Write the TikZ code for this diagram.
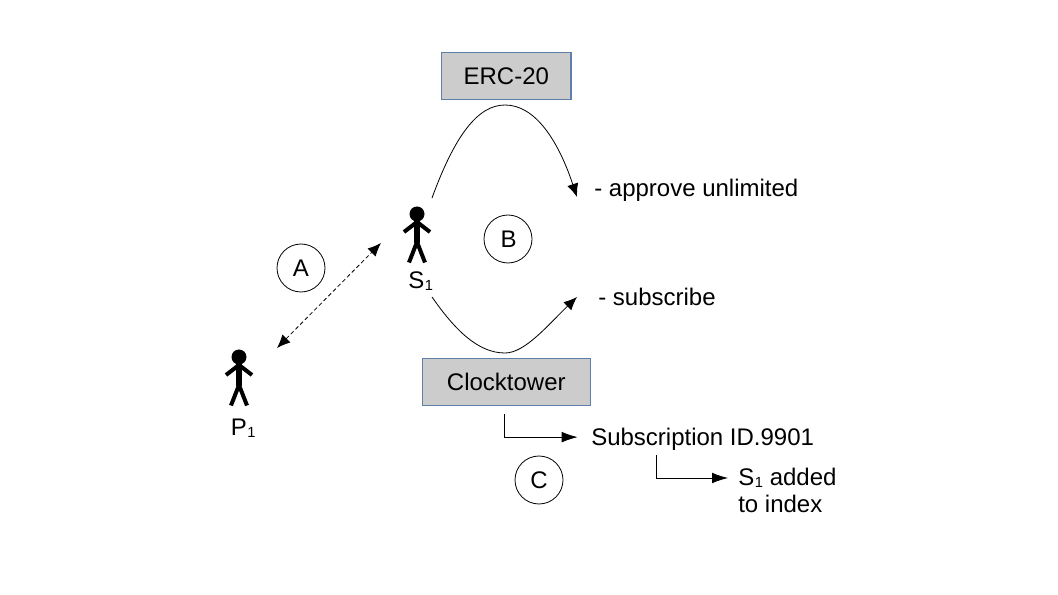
\documentclass[tikz,border=0pt]{standalone}
\usepackage{fontspec}
\setmainfont{Liberation Sans}
\usetikzlibrary{arrows.meta}
\definecolor{boxline}{HTML}{5F7FA8}
\newcommand{\subone}{\kern0.5pt\raisebox{-1.5pt}{\fontsize{11}{11}\selectfont 1}}

\begin{document}
\begin{tikzpicture}[x=0.75pt, y=-0.75pt,
  every node/.style = {font=\fontsize{18}{20}\selectfont, inner sep=0pt},
  contract/.style = {shape=rectangle, draw=boxline, fill=black!20,
    line width=0.8pt, minimum height=35.5pt, align=center},
  marker/.style = {shape=circle, draw, line width=0.6pt, minimum size=36pt},
  lbl/.style = {anchor=base west, align=left},
  flow/.style = {line width=0.6pt, -{Latex[length=10pt, width=8.5pt]}},
  elbow/.style = {line width=0.6pt, -{Latex[length=12pt, width=8pt]}},
  person/.pic = {
    \fill[black] (0,-23) circle (7.5);
    \draw[line width=4.5pt] (0,-18) -- (0,6);
    \draw[line width=3pt] (-13,-5) -- (0,-15) -- (13,-5);
    \draw[line width=3pt] (-8,25.5) -- (0,5) -- (8,25.5);
  }]
  \useasboundingbox (0,0) rectangle (1058,595);

  % boxes
  \node[contract, minimum width=97pt] (erc) at (506.3,76) {ERC-20};
  \node[contract, minimum width=126pt] (clock) at (506.3,382) {Clocktower};

  % people
  \pic at (417,237) {person};
  \pic at (239,380) {person};
  \node[lbl] (s1) at (408,289) {S\subone};
  \node[lbl] (p1) at (230.5,436) {P\subone};

  % circled letters
  \node[marker] (a) at (301,268) {A};
  \node[marker] (b) at (508,239) {\kern1pt B};
  \node[marker] (c) at (539,480) {C};

  % texts
  \node[lbl] (approve) at (594,197) {- approve unlimited};
  \node[lbl] (subscribe) at (598,306) {- subscribe};
  \node[lbl] (subid) at (591,446) {Subscription ID.9901};
  \node[lbl, anchor=north west] (added) at (738,468) {S\subone\ added\\to index};

  % arrow ends
  \coordinate (upstart) at (432,198);
  \coordinate (uptop) at (505,105);
  \coordinate (upend) at (577,197);
  \coordinate (lowstart) at (432,297);
  \coordinate (lowbot) at (505,353);
  \coordinate (lowend) at (577,297);
  \coordinate (dashs) at (381,243);
  \coordinate (dashp) at (277,348);
  \coordinate (idstart) at (656,455);
  \coordinate (idend) at (728,478);

  \draw[flow] (upstart) .. controls (455,135) and (478,105) .. (uptop)
    .. controls (535,105) and (558,140) .. (upend);
  \draw[flow] (lowstart) .. controls (455,330) and (478,353) .. (lowbot)
    .. controls (525,353) and (548,325) .. (lowend);
  \draw[line width=0.6pt, densely dashed, {Latex[length=10pt, width=8.5pt]}-{Latex[length=10pt, width=8.5pt]}]
    (dashp) -- (dashs);
  \draw[elbow, shorten <=6pt, shorten >=10pt] ([xshift=-1.5pt]clock.south) |- ([yshift=2pt]subid.west);
  \draw[elbow] (idstart) |- (idend);
\end{tikzpicture}
\end{document}
